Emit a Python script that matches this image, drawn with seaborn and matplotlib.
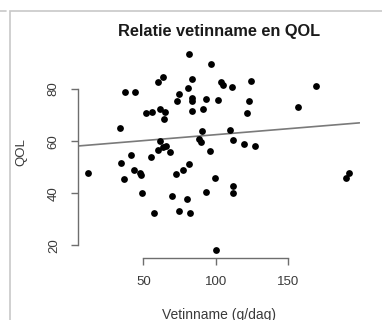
import numpy as np
import pandas as pd
import matplotlib
matplotlib.use("Agg")
import matplotlib.pyplot as plt
from matplotlib.patches import Rectangle
from matplotlib.lines import Line2D
import seaborn as sns

# Daily fat intake (g/dag) and quality-of-life score per participant
vetinname = [81.7, 96.5, 37.7, 44.1, 60.1, 63.8, 80.8, 83.6, 103.4, 105.2,
             110.9, 124.6, 168.8, 74.6, 73.0, 83.6, 83.6, 93.2, 101.7, 122.8,
             157.0, 52.2, 55.9, 61.4, 65.2, 64.3, 83.7, 90.9, 121.7, 34.1,
             109.8, 90.8, 88.4, 89.7, 112.1, 119.7, 127.0, 61.5, 59.8, 63.4,
             65.7, 68.4, 96.0, 41.3, 55.3, 34.6, 12.1, 37.0, 43.6, 47.7,
             48.4, 49.1, 57.6, 72.6, 77.7, 81.5, 70.0, 74.3, 80.1, 82.1,
             93.2, 99.7, 112.1, 112.1, 100.3, 189.6, 191.9]
qol = [93.5, 89.6, 79.0, 79.0, 82.7, 84.7, 80.6, 83.7, 82.6, 81.7,
       80.9, 83.0, 81.0, 78.0, 75.5, 76.4, 75.5, 76.0, 75.8, 75.5,
       73.2, 70.8, 71.3, 72.2, 71.3, 68.5, 71.5, 72.2, 70.9, 64.9,
       64.4, 63.7, 61.0, 59.5, 60.4, 59.0, 58.3, 59.9, 56.4, 57.8,
       58.1, 55.9, 56.2, 54.5, 53.8, 51.5, 47.9, 45.3, 49.0, 47.8,
       46.8, 40.0, 32.2, 47.2, 48.9, 51.2, 39.1, 33.1, 37.7, 32.5,
       40.4, 46.0, 42.8, 40.0, 18.3, 45.7, 47.9]

# Least-squares line: QOL = intercept + slope * vetinname
intercept = 57.9
slope = 0.0458

x_ticks = [50, 100, 150]
y_ticks = [20, 40, 60, 80]

df = pd.DataFrame({"Vetinname (g/dag)": vetinname, "QOL": qol})

sns.set_style("white")
plt.rcParams["font.family"] = ["Liberation Sans", "DejaVu Sans"]

W, H = 382, 320
fig = plt.figure(figsize=(W / 100, H / 100), dpi=100)

left, right, top, bottom = 77.9, 359.5, 46.1, 257.5
ax = fig.add_axes([left / W, 1 - bottom / H, (right - left) / W, (bottom - top) / H])

sns.scatterplot(data=df, x="Vetinname (g/dag)", y="QOL", ax=ax,
                color="black", s=24, linewidth=0, zorder=3)
ax.axline((0, intercept), slope=slope, color="#7a7a7a", lw=1.2, zorder=2)

# R-like axes padded 4% beyond the data range
xr = max(vetinname) - min(vetinname)
yr = max(qol) - min(qol)
ax.set_xlim(min(vetinname) - 0.04 * xr, max(vetinname) + 0.04 * xr)
ax.set_ylim(min(qol) - 0.04 * yr, max(qol) + 0.04 * yr)

ax.set_xticks(x_ticks)
ax.set_yticks(y_ticks)
for s in ("top", "right"):
    ax.spines[s].set_visible(False)
ax.spines["left"].set_bounds(y_ticks[0], y_ticks[-1])
ax.spines["bottom"].set_bounds(x_ticks[0], x_ticks[-1])
for s in ("left", "bottom"):
    ax.spines[s].set_color("#6e6e6e")
    ax.spines[s].set_linewidth(1.0)

ax.tick_params(axis="both", direction="out", length=5, width=1.0,
               color="#6e6e6e", labelcolor="#3a3a3a",
               left=True, bottom=True)
ax.tick_params(axis="x", pad=8, labelsize=9.5)
ax.tick_params(axis="y", pad=8, labelrotation=90, labelsize=9.5)
for lab in ax.get_yticklabels():
    lab.set_va("center")

ax.set_xlabel("Vetinname (g/dag)", fontsize=10, color="#3a3a3a")
ax.set_ylabel("QOL", fontsize=9.5, color="#3a3a3a")
ax.xaxis.set_label_coords(0.5, (bottom - 308) / (bottom - top))
ax.xaxis.label.set_va("top")
ax.yaxis.set_label_coords((27 - left) / (right - left), 0.5)

ax.set_title("Relatie vetinname en QOL", fontsize=11.8, fontweight="bold",
             color="#1a1a1a", pad=7)

# panel frame around the plot
fig.add_artist(Rectangle((10 / W, -0.05), 1.2, 1 - 11 / H + 0.05,
                         transform=fig.transFigure, fill=False,
                         edgecolor="#c8c8c8", lw=1.2))
fig.add_artist(Line2D([0, 6 / W], [1 - 11 / H, 1 - 11 / H],
                      transform=fig.transFigure, color="#c8c8c8", lw=1.2))

fig.savefig("out.png", dpi=100, facecolor="white")
